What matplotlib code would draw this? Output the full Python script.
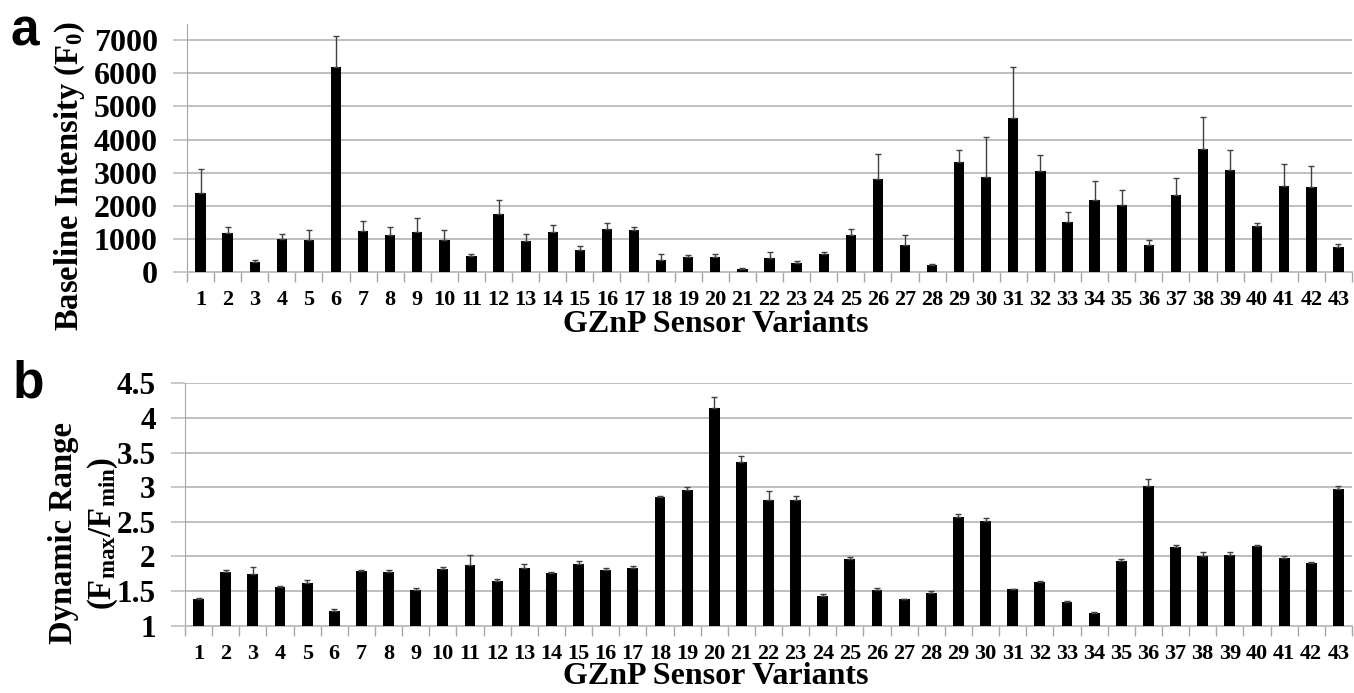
import matplotlib
matplotlib.use("Agg")
import matplotlib.pyplot as plt
import numpy as np

variants = [str(i) for i in range(1, 44)]

baseline = [2400, 1190, 290, 1010, 970, 6190, 1240, 1110, 1210, 960,
            490, 1740, 930, 1210, 660, 1290, 1260, 350, 440, 440,
            90, 420, 280, 530, 1110, 2800, 830, 210, 3310, 2870,
            4660, 3050, 1520, 2160, 2030, 810, 2340, 3730, 3090, 1380,
            2610, 2580, 770]
baseline_err = [720, 160, 80, 150, 310, 940, 300, 240, 430, 320,
                40, 420, 220, 220, 140, 190, 100, 200, 70, 90,
                30, 180, 50, 80, 200, 750, 300, 20, 390, 1220,
                1530, 490, 300, 580, 450, 160, 510, 950, 580, 110,
                640, 610, 80]

dyn_range = [1.38, 1.78, 1.75, 1.56, 1.62, 1.21, 1.79, 1.78, 1.515, 1.82,
             1.88, 1.64, 1.83, 1.76, 1.89, 1.81, 1.84, 2.86, 2.955, 4.14,
             3.37, 2.815, 2.815, 1.43, 1.97, 1.51, 1.385, 1.47, 2.565, 2.51,
             1.53, 1.63, 1.34, 1.18, 1.93, 3.02, 2.13, 2.01, 2.02, 2.15,
             1.98, 1.905, 2.97]
dyn_err = [0.02, 0.02, 0.10, 0.02, 0.04, 0.03, 0.01, 0.02, 0.025, 0.03,
           0.14, 0.04, 0.06, 0.02, 0.04, 0.03, 0.02, 0.01, 0.045, 0.16,
           0.08, 0.125, 0.055, 0.03, 0.02, 0.03, 0.005, 0.03, 0.045, 0.04,
           0.0, 0.01, 0.01, 0.02, 0.04, 0.10, 0.03, 0.06, 0.04, 0.015,
           0.02, 0.015, 0.04]

a_ticks = [0, 1000, 2000, 3000, 4000, 5000, 6000, 7000]
b_ticks = [1, 1.5, 2, 2.5, 3, 3.5, 4, 4.5]
b_ticklabels = ["1", "1.5", "2", "2.5", "3", "3.5", "4", "4.5"]

plt.rcParams['font.family'] = ['Liberation Serif', 'DejaVu Serif']
plt.rcParams['font.weight'] = 'bold'
plt.rcParams['mathtext.default'] = 'regular'

W, H = 1354, 693
fig = plt.figure(figsize=(W / 100, H / 100), dpi=100)

def px_axes(l, r, t, b):
    return fig.add_axes([l / W, 1 - b / H, (r - l) / W, (b - t) / H])

grid_c = '#BFBFBF'
axis_c = '#A6A6A6'

def style(ax, ticks, ticklabels, ylim, yfs):
    n = len(variants)
    x = np.arange(n)
    ax.set_xlim(-0.5, n - 0.5)
    ax.set_ylim(*ylim)
    ax.set_yticks(ticks)
    ax.set_yticklabels(ticklabels, fontsize=yfs, fontweight='bold')
    ax.set_xticks(x)
    ax.set_xticklabels(variants, fontsize=16, fontweight='bold')
    ax.set_xticks(np.arange(n + 1) - 0.5, minor=True)
    ax.tick_params(axis='x', which='major', length=0, pad=13)
    ax.tick_params(axis='x', which='minor', length=7, color=axis_c, width=1)
    ax.tick_params(axis='y', length=10, color=grid_c, width=1.2, pad=11)
    ax.yaxis.grid(True, color=grid_c, linewidth=1.4)
    ax.set_axisbelow(True)
    for s in ['top', 'right']:
        ax.spines[s].set_visible(False)
    ax.spines['left'].set_color(axis_c)
    ax.spines['bottom'].set_color(grid_c)
    ax.spines['bottom'].set_linewidth(1.4)
    return x

# Panel a
a_l, a_r, a_t, a_b = 187, 1352, 23.7, 272
ax1 = px_axes(a_l, a_r, a_t, a_b)
x = style(ax1, a_ticks, [str(t) for t in a_ticks], (0, 7500), 23)
ax1.bar(x, baseline, width=0.38, color='black', zorder=3)
ax1.errorbar(x, baseline, yerr=[np.zeros(len(baseline)), baseline_err],
             fmt='none', ecolor='#404040', elinewidth=1, capsize=2.5,
             capthick=1, zorder=4)
ax1.set_xlabel('GZnP Sensor Variants', fontsize=23, fontweight='bold')
ax1.xaxis.set_label_coords((716 - a_l) / (a_r - a_l), (a_b - 310) / (a_b - a_t))
ax1.set_ylabel('Baseline Intensity (F$_0$)', fontsize=23.5, fontweight='bold')
ax1.yaxis.set_label_coords((70 - a_l) / (a_r - a_l), (a_b - 176) / (a_b - a_t))
ax1.yaxis.label.set_verticalalignment('center')

# Panel b
b_l, b_r, b_t, b_b = 185, 1352, 383.3, 625.7
ax2 = px_axes(b_l, b_r, b_t, b_b)
x = style(ax2, b_ticks, b_ticklabels, (1, 4.5), 22.5)
ax2.bar(x, dyn_range, width=0.4, color='black', zorder=3)
ax2.errorbar(x, dyn_range, yerr=[np.zeros(len(dyn_range)), dyn_err],
             fmt='none', ecolor='#404040', elinewidth=1, capsize=2.5,
             capthick=1, zorder=4)
ax2.set_xlabel('GZnP Sensor Variants', fontsize=23, fontweight='bold')
ax2.xaxis.set_label_coords((716 - b_l) / (b_r - b_l), (b_b - 662) / (b_b - b_t))
ax2.set_ylabel('Dynamic Range\n(F$_{max}$/F$_{min}$)', fontsize=23.5,
               fontweight='bold', linespacing=1.22)
ax2.yaxis.set_label_coords((84 - b_l) / (b_r - b_l), (b_b - 533) / (b_b - b_t))
ax2.yaxis.label.set_verticalalignment('center')

fig.text(10 / W, 1 - 45 / H, 'a', fontsize=37, fontweight='bold',
         family=['Liberation Sans', 'DejaVu Sans'], ha='left', va='baseline')
fig.text(13 / W, 1 - 398 / H, 'b', fontsize=37, fontweight='bold',
         family=['Liberation Sans', 'DejaVu Sans'], ha='left', va='baseline')

fig.savefig('out.png', dpi=100)
